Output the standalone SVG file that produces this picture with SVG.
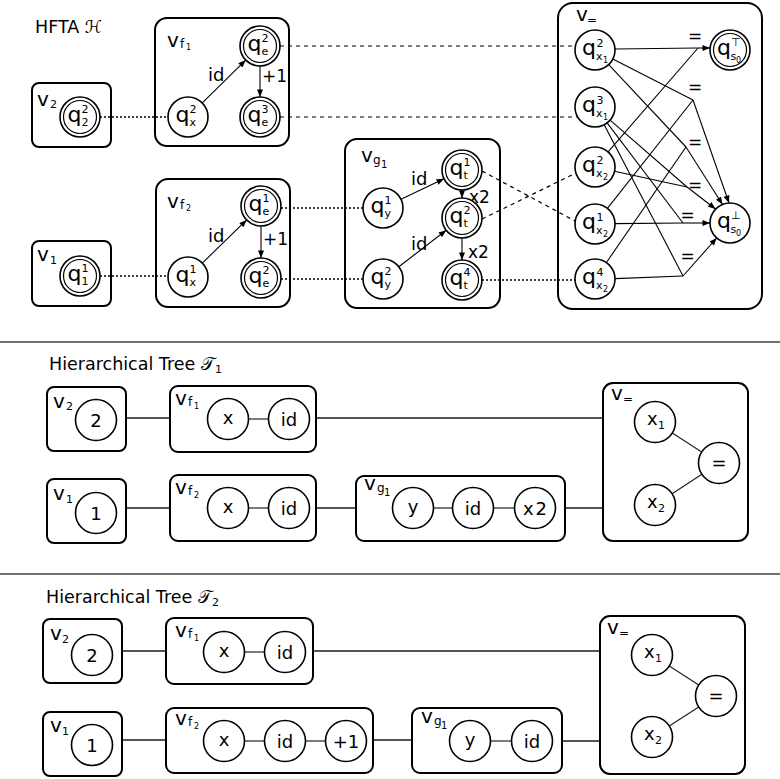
<svg xmlns="http://www.w3.org/2000/svg" width="780" height="779" viewBox="0 0 780 779">
<defs>
<style>
text{font-family:"DejaVu Sans","Noto Sans",sans-serif;fill:#000}
.box{fill:none;stroke:#000;stroke-width:2}
.st{fill:#fff;stroke:#000;stroke-width:1.6}
.in{fill:none;stroke:#000;stroke-width:1.2}
.q{font-size:22px}
.s{font-size:11px}
.ss{font-size:8px}
.v{font-size:20px}
.vs{font-size:12px}
.lb{font-size:18px}
.eq{font-size:17px;text-anchor:middle}
.tt{font-size:18px;text-anchor:middle}
.ttl{font-size:17.5px}
.dot{stroke:#000;stroke-width:1.3;stroke-dasharray:2 2;fill:none}
.dash{stroke:#000;stroke-width:1.2;stroke-dasharray:4 4;fill:none}
.arr{stroke:#000;stroke-width:1.1;fill:none;marker-end:url(#ah)}
.he{stroke:#000;stroke-width:1.1;fill:none}
.tl{stroke:#555;stroke-width:1.8}
.tc{stroke:#222;stroke-width:1.2}
.sep{stroke:#444;stroke-width:1.5}
</style>
<marker id="ah" viewBox="0 0 10 8" refX="10" refY="4" markerWidth="8" markerHeight="6" markerUnits="userSpaceOnUse" orient="auto"><path d="M0,0 L10,4 L0,8 z" fill="#000"/></marker>
</defs>
<rect width="780" height="779" fill="#fff"/>

<!-- ===== HFTA ===== -->
<text class="ttl" x="35" y="33">HFTA ℋ</text>

<g id="connectors-hfta">
<line class="dot" x1="100" y1="117" x2="168" y2="117"/>
<line class="dot" x1="100" y1="276" x2="168" y2="276"/>
<line class="dot" x1="281" y1="208" x2="363" y2="208"/>
<line class="dot" x1="281" y1="279" x2="363" y2="279"/>
<line class="dot" x1="482" y1="280" x2="575" y2="280"/>
<line class="dash" x1="280" y1="46" x2="575.4" y2="46"/>
<line class="dash" x1="280" y1="117" x2="577.7" y2="117"/>
<line class="dash" x1="482" y1="171" x2="575" y2="221"/>
<line class="dash" x1="482" y1="219" x2="576" y2="173"/>
<line class="arr" x1="202.3" y1="102.9" x2="245.7" y2="60.1"/>
<line class="arr" x1="260" y1="66" x2="260" y2="97"/>
<line class="arr" x1="202.3" y1="263.1" x2="246.7" y2="219.9"/>
<line class="arr" x1="261" y1="226" x2="261" y2="258"/>
<line class="arr" x1="401" y1="199.3" x2="444" y2="178.7"/>
<line class="arr" x1="398.8" y1="266.8" x2="446.2" y2="230.2"/>
<line class="arr" x1="462" y1="190" x2="462" y2="198"/>
<line class="arr" x1="462" y1="238" x2="462" y2="260"/>
<!-- hyperedges in v= -->
<line class="he" x1="615" y1="49" x2="698" y2="48"/>
<line class="he" x1="608.1" y1="151.9" x2="698" y2="48"/>
<line class="arr" x1="698" y1="48" x2="710" y2="48"/>
<line class="he" x1="612.8" y1="59.1" x2="693" y2="100"/>
<line class="he" x1="607.4" y1="208.3" x2="693" y2="100"/>
<line class="arr" x1="693" y1="100" x2="729" y2="203"/>
<line class="he" x1="608.7" y1="64.6" x2="686" y2="147"/>
<line class="he" x1="606.4" y1="262.5" x2="686" y2="147"/>
<line class="arr" x1="686" y1="147" x2="722.5" y2="204.5"/>
<line class="he" x1="610.1" y1="120.1" x2="687" y2="187"/>
<line class="he" x1="614.5" y1="171.2" x2="687" y2="187"/>
<line class="arr" x1="687" y1="187" x2="715.5" y2="209"/>
<line class="he" x1="607.1" y1="122.9" x2="683" y2="223"/>
<line class="he" x1="615" y1="223.6" x2="683" y2="223"/>
<line class="arr" x1="683" y1="223" x2="710" y2="223"/>
<line class="he" x1="604.2" y1="124.7" x2="683" y2="276"/>
<line class="he" x1="615" y1="278.6" x2="683" y2="276"/>
<line class="arr" x1="683" y1="276" x2="716.7" y2="238"/>
<text class="eq" x="695" y="42">=</text>
<text class="eq" x="695" y="93">=</text>
<text class="eq" x="695" y="148">=</text>
<text class="eq" x="695" y="191">=</text>
<text class="eq" x="687.5" y="220.5">=</text>
<text class="eq" x="687.5" y="262">=</text>
<text class="lb" x="208" y="81">id</text>
<text class="lb" x="262" y="82" style="font-size:17px">+1</text>
<text class="lb" x="208" y="242">id</text>
<text class="lb" x="263" y="245" style="font-size:17px">+1</text>
<text class="lb" x="411" y="185">id</text>
<text class="lb" x="411" y="250">id</text>
<text class="lb" x="469" y="203" style="font-size:17px">x2</text>
<text class="lb" x="468" y="258" style="font-size:17px">x2</text>
</g>

<g id="v2">
<rect class="box" x="32" y="83" width="79" height="64" rx="7"/>
<text class="v" x="37" y="106">v<tspan class="s" x="50" y="108">2</tspan></text>
<circle class="st" cx="80" cy="117" r="20"/><circle class="in" cx="80" cy="117" r="16.5"/>
<text class="q" x="67.5" y="122">q<tspan class="s" x="81.5" y="113">2</tspan><tspan class="s" x="81.5" y="126">2</tspan></text>
</g>

<g id="v1">
<rect class="box" x="32" y="241" width="79" height="65" rx="7"/>
<text class="v" x="37" y="261">v<tspan class="s" x="50" y="264">1</tspan></text>
<circle class="st" cx="80" cy="276" r="20"/><circle class="in" cx="80" cy="276" r="16.5"/>
<text class="q" x="67.5" y="281">q<tspan class="s" x="81.5" y="272">1</tspan><tspan class="s" x="81.5" y="285">1</tspan></text>
</g>

<g id="vf1">
<rect class="box" x="155" y="18" width="134" height="128" rx="12"/>
<text class="v" x="167" y="47">v<tspan class="vs" x="180" y="48">f</tspan><tspan class="ss" x="186" y="50">1</tspan></text>
<circle class="st" cx="188" cy="117" r="20"/>
<text class="q" x="175.5" y="122">q<tspan class="s" x="189.5" y="113">2</tspan><tspan class="s" x="189.5" y="126">x</tspan></text>
<circle class="st" cx="260" cy="46" r="20"/><circle class="in" cx="260" cy="46" r="16.5"/>
<text class="q" x="247.5" y="51">q<tspan class="s" x="261.5" y="42">2</tspan><tspan class="s" x="261.5" y="55">e</tspan></text>
<circle class="st" cx="260" cy="117" r="20"/><circle class="in" cx="260" cy="117" r="16.5"/>
<text class="q" x="247.5" y="122">q<tspan class="s" x="261.5" y="113">3</tspan><tspan class="s" x="261.5" y="126">e</tspan></text>
</g>

<g id="vf2">
<rect class="box" x="156" y="179" width="134" height="128" rx="12"/>
<text class="v" x="167" y="208">v<tspan class="vs" x="180" y="209">f</tspan><tspan class="ss" x="186" y="211">2</tspan></text>
<circle class="st" cx="188" cy="277" r="20"/>
<text class="q" x="175.5" y="282">q<tspan class="s" x="189.5" y="273">1</tspan><tspan class="s" x="189.5" y="286">x</tspan></text>
<circle class="st" cx="261" cy="206" r="20"/><circle class="in" cx="261" cy="206" r="16.5"/>
<text class="q" x="248.5" y="211">q<tspan class="s" x="262.5" y="202">1</tspan><tspan class="s" x="262.5" y="215">e</tspan></text>
<circle class="st" cx="261" cy="278" r="20"/><circle class="in" cx="261" cy="278" r="16.5"/>
<text class="q" x="248.5" y="283">q<tspan class="s" x="262.5" y="274">2</tspan><tspan class="s" x="262.5" y="287">e</tspan></text>
</g>

<g id="vg1">
<rect class="box" x="345" y="139" width="155" height="169" rx="12"/>
<text class="v" x="361" y="162">v<tspan class="vs" x="373" y="164">g</tspan><tspan class="s" style="font-size:10px" x="381" y="168">1</tspan></text>
<circle class="st" cx="383" cy="208" r="20"/>
<text class="q" x="370.5" y="213">q<tspan class="s" x="384.5" y="204">1</tspan><tspan class="s" x="384.5" y="217">y</tspan></text>
<circle class="st" cx="383" cy="279" r="20"/>
<text class="q" x="370.5" y="284">q<tspan class="s" x="384.5" y="275">2</tspan><tspan class="s" x="384.5" y="288">y</tspan></text>
<circle class="st" cx="462" cy="170" r="20"/><circle class="in" cx="462" cy="170" r="16.5"/>
<text class="q" x="449.5" y="175">q<tspan class="s" x="463.5" y="166">1</tspan><tspan class="s" x="463.5" y="179">t</tspan></text>
<circle class="st" cx="462" cy="218" r="20"/><circle class="in" cx="462" cy="218" r="16.5"/>
<text class="q" x="449.5" y="223">q<tspan class="s" x="463.5" y="214">2</tspan><tspan class="s" x="463.5" y="227">t</tspan></text>
<circle class="st" cx="462" cy="280" r="20"/><circle class="in" cx="462" cy="280" r="16.5"/>
<text class="q" x="449.5" y="285">q<tspan class="s" x="463.5" y="276">4</tspan><tspan class="s" x="463.5" y="289">t</tspan></text>
</g>

<g id="veq">
<rect class="box" x="558" y="3" width="204" height="306" rx="15"/>
<text class="v" x="576" y="21">v<tspan class="vs" x="587" y="24">=</tspan></text>
<circle class="st" cx="595" cy="50" r="20"/>
<text class="q" x="582" y="55">q<tspan class="s" x="596.5" y="47">2</tspan><tspan class="s" x="596" y="60">x</tspan><tspan class="ss" x="603" y="63">1</tspan></text>
<circle class="st" cx="595" cy="107" r="20"/>
<text class="q" x="582" y="112">q<tspan class="s" x="596.5" y="104">3</tspan><tspan class="s" x="596" y="117">x</tspan><tspan class="ss" x="603" y="120">1</tspan></text>
<circle class="st" cx="595" cy="167" r="20"/>
<text class="q" x="582" y="172">q<tspan class="s" x="596.5" y="164">2</tspan><tspan class="s" x="596" y="177">x</tspan><tspan class="ss" x="603" y="180">2</tspan></text>
<circle class="st" cx="595" cy="224" r="20"/>
<text class="q" x="582" y="229">q<tspan class="s" x="596.5" y="221">1</tspan><tspan class="s" x="596" y="234">x</tspan><tspan class="ss" x="603" y="237">2</tspan></text>
<circle class="st" cx="595" cy="279" r="20"/>
<text class="q" x="582" y="284">q<tspan class="s" x="596.5" y="276">4</tspan><tspan class="s" x="596" y="289">x</tspan><tspan class="ss" x="603" y="292">2</tspan></text>
<circle class="st" cx="730" cy="50" r="20"/><circle class="in" cx="730" cy="50" r="16.5"/>
<text class="q" x="717" y="55">q<tspan class="s" x="731" y="46">⊤</tspan><tspan class="s" x="730.5" y="60">s</tspan><tspan class="ss" x="736" y="63">0</tspan></text>
<circle class="st" cx="730" cy="223" r="20"/>
<text class="q" x="717" y="228">q<tspan class="s" x="731" y="219">⊥</tspan><tspan class="s" x="730.5" y="233">s</tspan><tspan class="ss" x="736" y="236">0</tspan></text>
</g>

<line class="sep" x1="0" y1="342" x2="780" y2="342"/>
<line class="sep" x1="0" y1="574" x2="780" y2="574"/>

<!-- ===== Tree 1 ===== -->
<text class="ttl" x="49" y="370">Hierarchical Tree 𝒯<tspan style="font-size:11px" dy="3">1</tspan></text>
<g id="connectors-t1">
<line class="tl" x1="126" y1="418" x2="170" y2="418"/>
<line class="tl" x1="316" y1="418" x2="603" y2="418"/>
<line class="tl" x1="126" y1="508" x2="170" y2="508"/>
<line class="tl" x1="316" y1="508" x2="356" y2="508"/>
<line class="tl" x1="565" y1="508" x2="603" y2="508"/>
<line class="tc" x1="248.5" y1="419" x2="268.5" y2="419"/>
<line class="tc" x1="248.5" y1="508" x2="268.5" y2="508"/>
<line class="tc" x1="433.5" y1="508" x2="452.5" y2="508"/>
<line class="tc" x1="493.5" y1="508" x2="514.5" y2="508"/>
<line class="tc" x1="672.3" y1="433.1" x2="701.7" y2="451.9"/>
<line class="tc" x1="672.1" y1="493.7" x2="701.9" y2="474.3"/>
</g>
<g id="t1-v2">
<rect class="box" x="47" y="387" width="79" height="64" rx="7"/>
<text class="v" x="53" y="408">v<tspan class="s" x="66" y="410">2</tspan></text>
<circle class="st" cx="96" cy="420" r="20.5"/><text class="tt" x="96" y="426.5">2</text>
</g>
<g id="t1-vf1">
<rect class="box" x="170" y="386" width="146" height="66" rx="8"/>
<text class="v" x="175" y="405">v<tspan class="vs" x="188" y="406">f</tspan><tspan class="ss" x="194" y="409">1</tspan></text>
<circle class="st" cx="228" cy="419" r="20.5"/><text class="tt" x="228" y="424">x</text>
<circle class="st" cx="289" cy="419" r="20.5"/><text class="tt" x="289" y="425.5">id</text>
</g>
<g id="t1-v1">
<rect class="box" x="47" y="479" width="79" height="64" rx="7"/>
<text class="v" x="53" y="500">v<tspan class="s" x="66" y="503">1</tspan></text>
<circle class="st" cx="96" cy="513" r="20.5"/><text class="tt" x="96" y="519.5">1</text>
</g>
<g id="t1-vf2">
<rect class="box" x="170" y="475" width="146" height="66" rx="8"/>
<text class="v" x="175" y="494">v<tspan class="vs" x="188" y="495">f</tspan><tspan class="ss" x="194" y="498">2</tspan></text>
<circle class="st" cx="228" cy="508" r="20.5"/><text class="tt" x="228" y="513">x</text>
<circle class="st" cx="289" cy="508" r="20.5"/><text class="tt" x="289" y="514.5">id</text>
</g>
<g id="t1-vg1">
<rect class="box" x="356" y="476" width="209" height="65" rx="8"/>
<text class="v" x="364" y="490">v<tspan class="vs" x="377" y="492">g</tspan><tspan class="s" style="font-size:10px" x="384" y="496">1</tspan></text>
<circle class="st" cx="413" cy="508" r="20.5"/><text class="tt" x="413" y="513">y</text>
<circle class="st" cx="473" cy="508" r="20.5"/><text class="tt" x="473" y="514.5">id</text>
<circle class="st" cx="535" cy="508" r="20.5"/><text class="tt" x="535" y="514.5">x<tspan dx="2">2</tspan></text>
</g>
<g id="t1-veq">
<rect class="box" x="603" y="383" width="145" height="158" rx="10"/>
<text class="v" x="611" y="400">v<tspan class="vs" x="623" y="403">=</tspan></text>
<circle class="st" cx="655" cy="422" r="20.5"/><text class="lb" x="647" y="425">x<tspan class="s" x="658" y="429">1</tspan></text>
<circle class="st" cx="655" cy="505" r="20.5"/><text class="lb" x="647" y="508">x<tspan class="s" x="658" y="512">2</tspan></text>
<circle class="st" cx="719" cy="463" r="20.5"/><text class="tt" x="719" y="469">=</text>
</g>

<!-- ===== Tree 2 ===== -->
<text class="ttl" x="46" y="603">Hierarchical Tree 𝒯<tspan style="font-size:11px" dy="3">2</tspan></text>
<g id="connectors-t2">
<line class="tl" x1="122" y1="651" x2="166" y2="651"/>
<line class="tl" x1="313" y1="651" x2="600" y2="651"/>
<line class="tl" x1="122" y1="740" x2="166" y2="740"/>
<line class="tl" x1="373" y1="740" x2="412" y2="740"/>
<line class="tl" x1="562" y1="741" x2="600" y2="741"/>
<line class="tc" x1="244.5" y1="652" x2="264.5" y2="652"/>
<line class="tc" x1="244.5" y1="741" x2="264.5" y2="741"/>
<line class="tc" x1="305.5" y1="741" x2="325.5" y2="741"/>
<line class="tc" x1="490.5" y1="741" x2="511.5" y2="741"/>
<line class="tc" x1="669.3" y1="666.1" x2="698.7" y2="684.9"/>
<line class="tc" x1="669.3" y1="725.9" x2="698.7" y2="707.1"/>
</g>
<g id="t2-v2">
<rect class="box" x="43" y="619" width="79" height="64" rx="7"/>
<text class="v" x="50" y="640">v<tspan class="s" x="62" y="643">2</tspan></text>
<circle class="st" cx="92" cy="655" r="20.5"/><text class="tt" x="92" y="661.5">2</text>
</g>
<g id="t2-vf1">
<rect class="box" x="166" y="618" width="147" height="66" rx="8"/>
<text class="v" x="175" y="637">v<tspan class="vs" x="188" y="638">f</tspan><tspan class="ss" x="194" y="641">1</tspan></text>
<circle class="st" cx="224" cy="652" r="20.5"/><text class="tt" x="224" y="657">x</text>
<circle class="st" cx="285" cy="652" r="20.5"/><text class="tt" x="285" y="658.5">id</text>
</g>
<g id="t2-v1">
<rect class="box" x="43" y="712" width="79" height="64" rx="7"/>
<text class="v" x="50" y="732">v<tspan class="s" x="62" y="735">1</tspan></text>
<circle class="st" cx="92" cy="745" r="20.5"/><text class="tt" x="92" y="751.5">1</text>
</g>
<g id="t2-vf2">
<rect class="box" x="166" y="708" width="207" height="65" rx="8"/>
<text class="v" x="175" y="725">v<tspan class="vs" x="188" y="726">f</tspan><tspan class="ss" x="194" y="729">2</tspan></text>
<circle class="st" cx="224" cy="741" r="20.5"/><text class="tt" x="224" y="746">x</text>
<circle class="st" cx="285" cy="741" r="20.5"/><text class="tt" x="285" y="747.5">id</text>
<circle class="st" cx="346" cy="741" r="20.5"/><text class="tt" x="346" y="747.5">+1</text>
</g>
<g id="t2-vg1">
<rect class="box" x="412" y="708" width="150" height="65" rx="8"/>
<text class="v" x="421" y="723">v<tspan class="vs" x="434" y="725">g</tspan><tspan class="s" style="font-size:10px" x="441" y="729">1</tspan></text>
<circle class="st" cx="470" cy="741" r="20.5"/><text class="tt" x="470" y="746">y</text>
<circle class="st" cx="532" cy="741" r="20.5"/><text class="tt" x="532" y="747.5">id</text>
</g>
<g id="t2-veq">
<rect class="box" x="600" y="616" width="145" height="158" rx="10"/>
<text class="v" x="607" y="634">v<tspan class="vs" x="619" y="637">=</tspan></text>
<circle class="st" cx="652" cy="655" r="20.5"/><text class="lb" x="644" y="658">x<tspan class="s" x="655" y="662">1</tspan></text>
<circle class="st" cx="652" cy="737" r="20.5"/><text class="lb" x="644" y="740">x<tspan class="s" x="655" y="744">2</tspan></text>
<circle class="st" cx="716" cy="696" r="20.5"/><text class="tt" x="716" y="702">=</text>
</g>
</svg>
